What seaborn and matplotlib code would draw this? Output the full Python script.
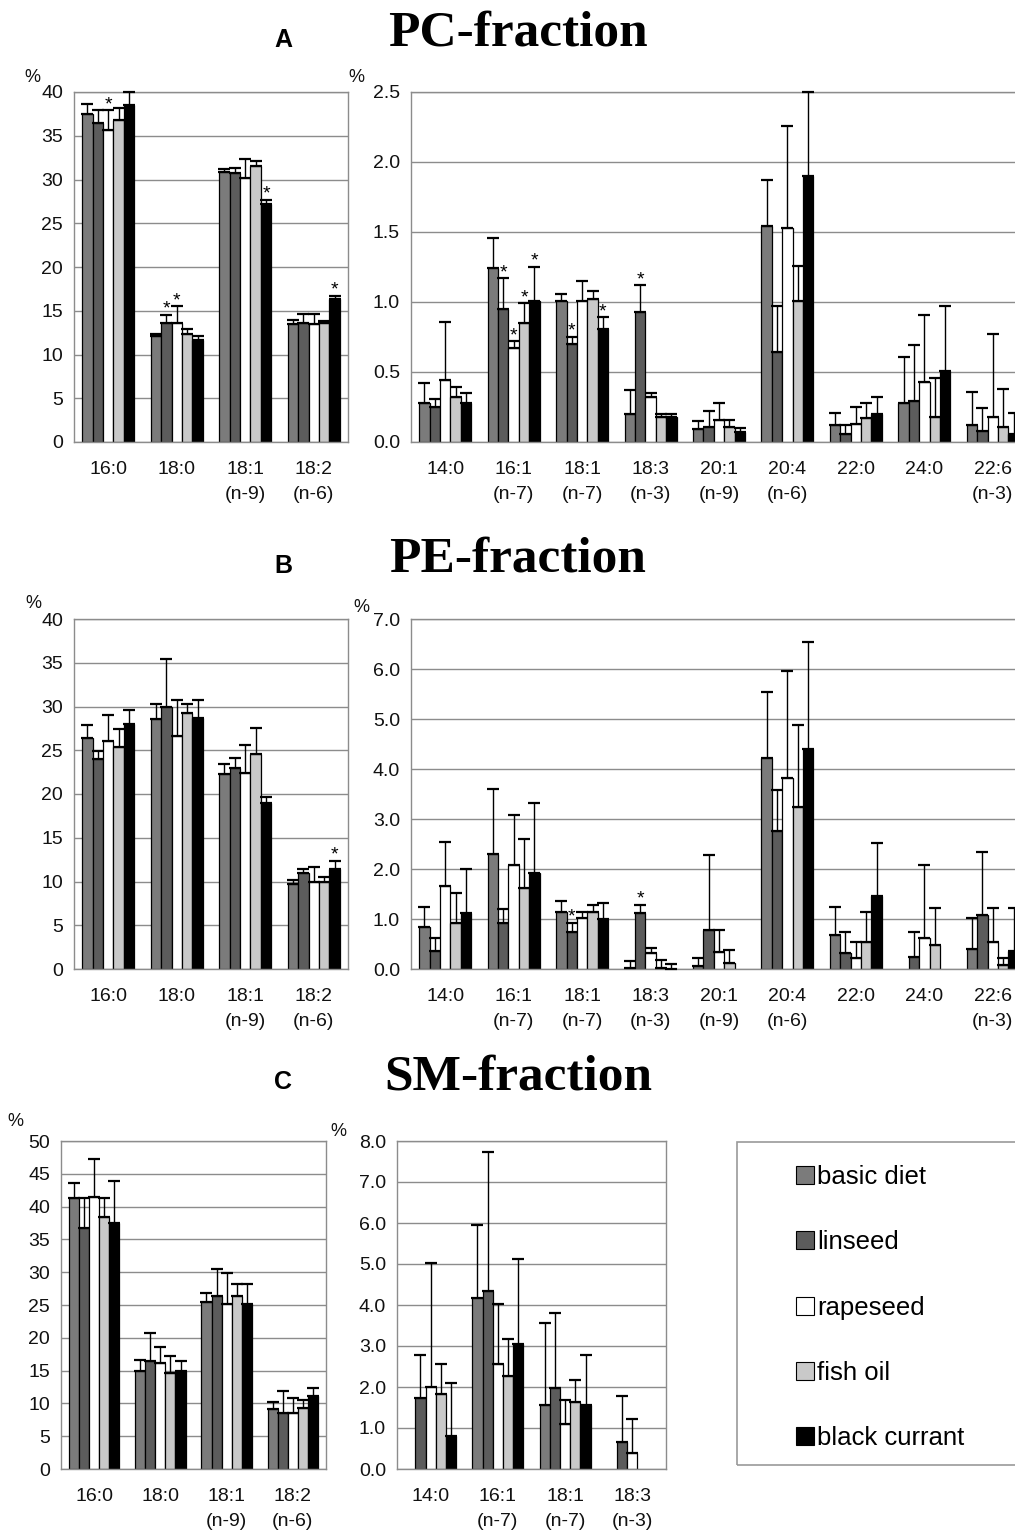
import numpy as np
import pandas as pd
import seaborn as sns
import matplotlib.pyplot as plt
from matplotlib.patches import Patch, Rectangle
from matplotlib.ticker import FormatStrFormatter, MultipleLocator

DIETS = ["basic diet", "linseed", "rapeseed", "fish oil", "black currant"]
DIET_COLORS = ["#7b7b7b", "#5c5c5c", "#ffffff", "#c9c9c9", "#000000"]

MAJOR_ACIDS = ["16:0", "18:0", "18:1\n(n-9)", "18:2\n(n-6)"]
MINOR_ACIDS = ["14:0", "16:1\n(n-7)", "18:1\n(n-7)", "18:3\n(n-3)", "20:1\n(n-9)",
               "20:4\n(n-6)", "22:0", "24:0", "22:6\n(n-3)"]
SM_MINOR_ACIDS = ["14:0", "16:1\n(n-7)", "18:1\n(n-7)", "18:3\n(n-3)"]

# rows follow DIETS, columns follow the acid list (mean and SD, % of fraction)
PC_MAJOR_MEAN = [[37.5, 12.1, 30.9, 13.5],
                 [36.5, 13.6, 30.7, 13.6],
                 [35.7, 13.6, 30.2, 13.5],
                 [36.8, 12.3, 31.6, 13.6],
                 [38.5, 11.7, 27.2, 16.3]]
PC_MAJOR_SD = [[1.1, 0.2, 0.3, 0.5],
               [1.4, 0.9, 0.6, 1.0],
               [2.2, 1.9, 2.1, 1.1],
               [1.4, 0.6, 0.5, 0.2],
               [1.5, 0.4, 0.5, 0.4]]
PC_MINOR_MEAN = [[0.28, 1.24, 1.01, 0.20, 0.09, 1.54, 0.12, 0.28, 0.12],
                 [0.25, 0.95, 0.70, 0.93, 0.11, 0.64, 0.06, 0.29, 0.08],
                 [0.44, 0.67, 1.01, 0.32, 0.16, 1.53, 0.13, 0.43, 0.18],
                 [0.32, 0.85, 1.02, 0.18, 0.11, 1.01, 0.17, 0.18, 0.11],
                 [0.28, 1.01, 0.81, 0.18, 0.07, 1.90, 0.20, 0.51, 0.06]]
PC_MINOR_SD = [[0.14, 0.22, 0.05, 0.17, 0.06, 0.33, 0.09, 0.33, 0.24],
               [0.06, 0.22, 0.05, 0.19, 0.11, 0.33, 0.06, 0.40, 0.16],
               [0.42, 0.05, 0.14, 0.03, 0.12, 0.73, 0.12, 0.48, 0.59],
               [0.07, 0.14, 0.06, 0.02, 0.05, 0.25, 0.11, 0.28, 0.27],
               [0.07, 0.24, 0.08, 0.02, 0.03, 0.60, 0.12, 0.46, 0.15]]

PE_MAJOR_MEAN = [[26.4, 28.6, 22.3, 9.7],
                 [24.0, 30.0, 23.0, 11.0],
                 [26.1, 26.6, 22.4, 9.9],
                 [25.4, 29.3, 24.6, 9.9],
                 [28.0, 28.7, 19.0, 11.4]]
PE_MAJOR_SD = [[1.5, 1.7, 1.1, 0.5],
               [0.9, 5.4, 1.1, 0.4],
               [2.9, 4.1, 3.2, 1.8],
               [2.0, 1.0, 2.9, 0.6],
               [1.6, 2.0, 0.7, 1.0]]
PE_MINOR_MEAN = [[0.84, 2.30, 1.15, 0.02, 0.07, 4.22, 0.69, 0.00, 0.40],
                 [0.37, 0.92, 0.75, 1.13, 0.78, 2.77, 0.33, 0.24, 1.09],
                 [1.67, 2.09, 1.03, 0.32, 0.35, 3.83, 0.22, 0.62, 0.54],
                 [0.92, 1.62, 1.15, 0.02, 0.12, 3.25, 0.54, 0.49, 0.08],
                 [1.13, 1.93, 1.00, 0.01, 0.00, 4.40, 1.47, 0.00, 0.37]]
PE_MINOR_SD = [[0.41, 1.30, 0.22, 0.15, 0.15, 1.33, 0.56, 0.00, 0.62],
               [0.25, 0.28, 0.17, 0.16, 1.51, 0.82, 0.41, 0.50, 1.26],
               [0.88, 1.00, 0.12, 0.10, 0.43, 2.14, 0.32, 1.47, 0.68],
               [0.60, 0.98, 0.14, 0.16, 0.27, 1.64, 0.61, 0.73, 0.15],
               [0.87, 1.40, 0.32, 0.09, 0.00, 2.15, 1.05, 0.00, 0.85]]

SM_MAJOR_MEAN = [[41.3, 14.9, 25.4, 9.1],
                 [36.8, 16.4, 26.3, 8.5],
                 [41.5, 16.1, 25.2, 8.5],
                 [38.4, 14.7, 26.3, 9.3],
                 [37.5, 15.0, 25.1, 11.1]]
SM_MAJOR_SD = [[2.3, 1.7, 1.4, 1.1],
               [4.5, 4.3, 4.2, 3.4],
               [5.7, 2.5, 4.7, 2.3],
               [2.9, 2.5, 1.9, 1.2],
               [6.4, 1.4, 3.1, 1.3]]
SM_MINOR_MEAN = [[0.00, 4.17, 1.55, 0.00],
                 [1.73, 4.33, 1.97, 0.65],
                 [2.00, 2.55, 1.10, 0.40],
                 [1.82, 2.27, 1.63, 0.00],
                 [0.80, 3.05, 1.55, 0.00]]
SM_MINOR_SD = [[0.00, 1.78, 2.02, 0.00],
               [1.04, 3.40, 1.83, 1.13],
               [3.02, 1.48, 0.58, 0.82],
               [0.73, 0.90, 0.55, 0.00],
               [1.30, 2.08, 1.22, 0.00]]

# significant differences: (acid index, diet index)
PC_MAJOR_STARS = [(0, 2), (1, 1), (1, 2), (2, 4), (3, 4)]
PC_MINOR_STARS = [(1, 1), (1, 2), (1, 3), (1, 4), (2, 1), (2, 4), (3, 1)]
PE_MAJOR_STARS = [(3, 4)]
PE_MINOR_STARS = [(2, 1), (3, 1)]

W, H = 1015, 1535
GRID = "#8c8c8c"

sns.set_theme(style="white")
plt.rcParams["font.family"] = ["Liberation Sans", "DejaVu Sans"]
plt.rcParams["text.color"] = "black"

fig = plt.figure(figsize=(W / 100, H / 100), dpi=100)


def add_ax(left, top, right, bottom):
    return fig.add_axes([left / W, 1 - bottom / H, (right - left) / W, (bottom - top) / H])


def draw_panel(ax, acids, means, sds, stars, ymax, ystep, fmt, pct_off):
    df = pd.DataFrame(
        [(a, d, means[j][i]) for j, d in enumerate(DIETS) for i, a in enumerate(acids)],
        columns=["acid", "diet", "value"],
    )
    sns.barplot(data=df, x="acid", y="value", hue="diet", order=acids, hue_order=DIETS,
                palette=DIET_COLORS, saturation=1, width=0.76, errorbar=None,
                edgecolor="black", linewidth=0.9, legend=False, ax=ax)

    bar_conts = list(ax.containers)
    for j, cont in enumerate(bar_conts):
        bars = sorted(cont.patches, key=lambda p: p.get_x())
        xs = [p.get_x() + p.get_width() / 2 for p in bars]
        for p in bars:
            if p.get_height() == 0:
                p.set_linewidth(0)
        keep = [i for i in range(len(xs)) if sds[j][i] > 0]
        ax.errorbar([xs[i] for i in keep], [means[j][i] for i in keep],
                    yerr=[[0] * len(keep), [sds[j][i] for i in keep]], fmt="none",
                    ecolor="black", elinewidth=1.0, capsize=4.5, capthick=1.6,
                    zorder=3, clip_on=False)
        for i, dj in stars:
            if dj == j:
                ax.annotate("*", (xs[i], means[j][i] + sds[j][i]), xytext=(0, -2),
                            textcoords="offset points", ha="center", va="bottom",
                            fontsize=14, zorder=4)

    n = len(acids)
    ax.set_ylim(0, ymax)
    ax.set_xlim(-0.5, n - 0.5)
    ax.yaxis.set_major_locator(MultipleLocator(ystep))
    ax.yaxis.set_major_formatter(FormatStrFormatter(fmt))
    ax.set_xlabel("")
    ax.set_ylabel("")
    ax.set_xticks(range(n))
    ax.set_xticklabels(acids, linespacing=1.6)
    ax.set_xticks(np.arange(-0.5, n), minor=True)
    ax.tick_params(axis="x", which="major", length=0, pad=14, labelsize=14, labelcolor="#111")
    ax.tick_params(axis="x", which="minor", length=8, direction="inout", color="#777", width=1)
    ax.tick_params(axis="y", length=4, color="#777", width=1, labelsize=14, pad=4,
                   labelcolor="#111")
    ax.grid(axis="y", color=GRID, lw=1)
    ax.grid(axis="x", visible=False)
    ax.set_axisbelow(True)
    for s in ax.spines.values():
        s.set_color(GRID)
        s.set_linewidth(1)
    ax.annotate("%", xy=(0, 1), xycoords="axes fraction", xytext=pct_off,
                textcoords="offset pixels", ha="center", va="center", fontsize=13,
                color="#111")


# panel A
draw_panel(add_ax(74, 92, 348, 442), MAJOR_ACIDS, PC_MAJOR_MEAN, PC_MAJOR_SD,
           PC_MAJOR_STARS, 40, 5, "%d", (-42, 15))
draw_panel(add_ax(411, 92, 1027, 442), MINOR_ACIDS, PC_MINOR_MEAN, PC_MINOR_SD,
           PC_MINOR_STARS, 2.5, 0.5, "%.1f", (-55, 14))
# panel B
draw_panel(add_ax(74, 619, 348, 969), MAJOR_ACIDS, PE_MAJOR_MEAN, PE_MAJOR_SD,
           PE_MAJOR_STARS, 40, 5, "%d", (-41, 15))
draw_panel(add_ax(411, 619, 1027, 969), MINOR_ACIDS, PE_MINOR_MEAN, PE_MINOR_SD,
           PE_MINOR_STARS, 7.0, 1.0, "%.1f", (-50, 12))
# panel C
draw_panel(add_ax(61, 1141, 326, 1469), MAJOR_ACIDS, SM_MAJOR_MEAN, SM_MAJOR_SD,
           [], 50, 5, "%d", (-46, 19))
draw_panel(add_ax(397, 1141, 666, 1469), SM_MINOR_ACIDS, SM_MINOR_MEAN, SM_MINOR_SD,
           [], 8.0, 1.0, "%.1f", (-59, 9))

# panel headings
for letter, title, y_letter, y_title in [("A", "PC-fraction", 40, 33),
                                         ("B", "PE-fraction", 566, 560),
                                         ("C", "SM-fraction", 1082, 1078)]:
    fig.text(283 / W, 1 - y_letter / H, letter, ha="center", va="center",
             fontsize=18, fontweight="bold", color="black")
    fig.text(518 / W, 1 - y_title / H, title, ha="center", va="center", fontsize=37,
             fontweight="bold", family="Liberation Serif", color="black")

# legend box
fig.add_artist(Rectangle((737 / W, 1 - 1465 / H), (1030 - 737) / W, (1465 - 1142) / H,
                         transform=fig.transFigure, fill=False, edgecolor="#999999", lw=1.2))
handles = [Patch(facecolor=c, edgecolor="black", lw=0.8) for c in DIET_COLORS]
fig.legend(handles, DIETS, loc="upper left", bbox_to_anchor=(796 / W, 1 - 1165 / H),
           frameon=False, fontsize=18.5, handlelength=0.7, handleheight=0.7,
           handletextpad=0.12, labelspacing=1.61, borderpad=0, borderaxespad=0)

fig.savefig("out.png", dpi=100)
